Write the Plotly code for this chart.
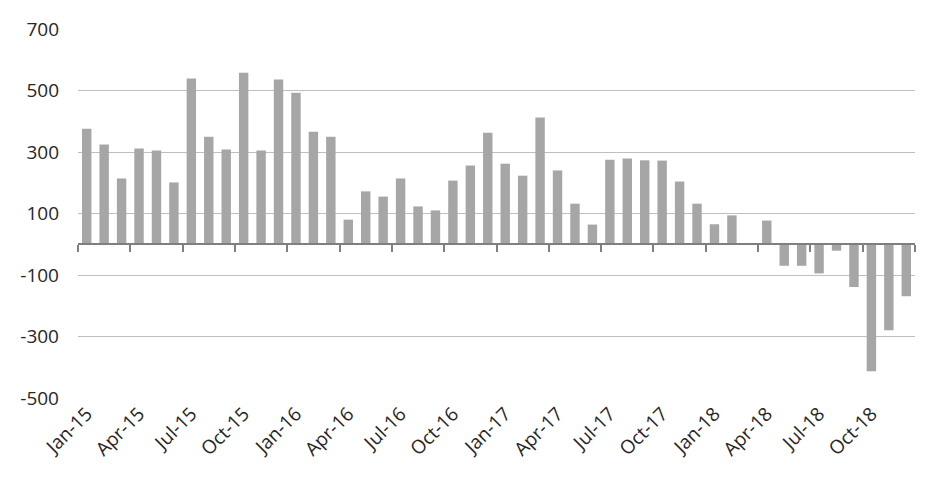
import plotly.graph_objects as go

months = ["Jan", "Feb", "Mar", "Apr", "May", "Jun", "Jul", "Aug", "Sep", "Oct", "Nov", "Dec"]
years = ["15", "16", "17", "18"]
labels = [m + "-" + y for y in years for m in months]

values = [376, 324, 214, 311, 305, 201, 539, 350, 308, 558, 305, 536,
          493, 366, 350, 80, 172, 155, 214, 123, 110, 207, 256, 363,
          262, 223, 412, 240, 132, 64, 275, 279, 273, 272, 204, 132,
          65, 94, 4, 77, -70, -70, -95, -21, -139, -413, -280, -169]

y_ticks = [-500, -300, -100, 100, 300, 500, 700]
y_min, y_max = -500, 700

fig = go.Figure()
fig.add_trace(go.Bar(x=labels, y=values, marker=dict(color="#a6a6a6", line=dict(width=0)),
                     xaxis="x", yaxis="y"))
# invisible trace to carry the bottom label axis
fig.add_trace(go.Scatter(x=labels, y=values, mode="markers", marker=dict(opacity=0),
                         hoverinfo="skip", xaxis="x2", yaxis="y", showlegend=False))

font = dict(family="Open Sans, sans-serif", size=19, color="#262626")

# page body has an 8px margin, so the figure is a bit smaller than the window
fig.update_layout(
    width=936, height=475,
    margin=dict(l=70, r=29, t=21, b=85),
    plot_bgcolor="white", paper_bgcolor="white",
    showlegend=False,
    bargap=0.46,
    font=font,
    yaxis=dict(range=[y_min, y_max], tickvals=y_ticks, ticktext=[str(v) for v in y_ticks],
               showgrid=True, gridcolor="#bfbfbf", gridwidth=1, zeroline=False,
               showline=False, ticks="", ticklabelstandoff=18, tickfont=font,
               automargin=False),
    xaxis=dict(type="category", anchor="free", position=(0 - y_min) / (y_max - y_min),
               showticklabels=False, showgrid=False, zeroline=False,
               showline=True, linecolor="#7f7f7f", linewidth=1.5,
               ticks="outside", ticklen=7, tickcolor="#7f7f7f", tickwidth=1.5,
               tickson="boundaries", tickmode="linear", dtick=3, tick0=0,
               range=[-0.5, len(labels) - 0.5], automargin=False),
    xaxis2=dict(type="category", overlaying="x", matches="x", anchor="y", side="bottom",
                showline=False, showgrid=False, zeroline=False, ticks="",
                tickmode="linear", dtick=3, tick0=0, tickangle=-45, tickfont=font,
                automargin=False),
)

fig.write_html("out.html")
